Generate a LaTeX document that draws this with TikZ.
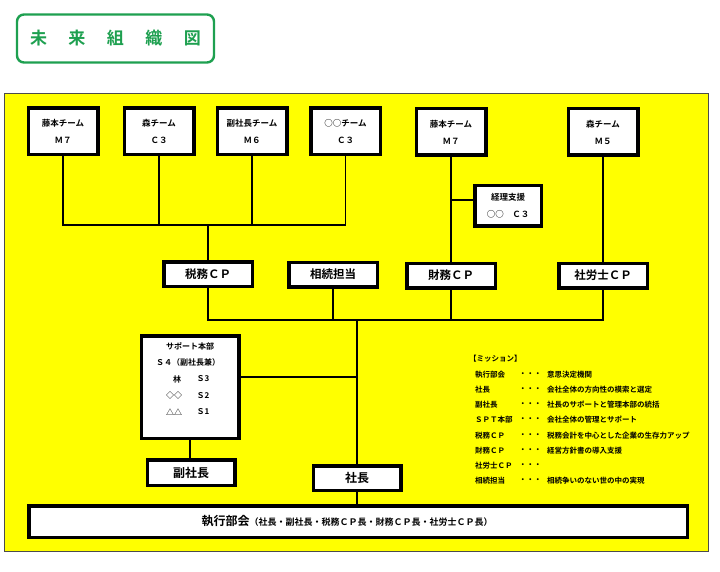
\documentclass[tikz,border=0pt]{standalone}
\usepackage{fontspec}
\setmainfont{Noto Sans CJK JP}[BoldFont={Noto Sans CJK JP Bold}]
\definecolor{ttlgreen}{RGB}{30,160,80}
\definecolor{bgyellow}{RGB}{255,255,0}
\newcommand{\tg}{\hspace{21.5pt}}
\begin{document}
\begin{tikzpicture}[x=1pt,y=-1pt,
  titlebox/.style={draw=ttlgreen, line width=2.4pt, rounded corners=7pt, fill=white, inner sep=0pt,
    minimum width=197pt, minimum height=48pt, text=ttlgreen, font=\bfseries\fontsize{17}{20}\selectfont},
  teambox/.style={draw, line width=3.5pt, fill=white, inner sep=0pt, align=center,
    minimum width=69.5pt, minimum height=46.5pt, font=\bfseries\fontsize{8.5}{17}\selectfont},
  cpbox/.style={draw, line width=3.5pt, fill=white, inner sep=0pt,
    minimum width=88.5pt, minimum height=24.5pt, font=\bfseries\fontsize{11.5}{14}\selectfont},
  headbox/.style={draw, line width=3.5pt, fill=white, inner sep=0pt,
    minimum width=87.5pt, minimum height=25.5pt, font=\bfseries\fontsize{12}{14}\selectfont},
  smalltxt/.style={inner sep=0pt, font=\bfseries\fontsize{8}{10}\selectfont},
  misstxt/.style={inner sep=0pt, anchor=west, font=\bfseries\fontsize{7.5}{9}\selectfont},
  conn/.style={line width=1.7pt}
]
\useasboundingbox (0,0) rectangle (720,572);
\fill[white] (0,0) rectangle (720,572);

% title
\node[titlebox] (title) at (115.5,38.5) {未\tg 来\tg 組\tg 織\tg 図};

% yellow field
\draw[fill=bgyellow, draw=gray!60!black, line width=0.6pt] (4,93) rectangle (708,551);

% top teams
\node[teambox] (t1) at (63,131.5)  {藤本チーム\\Ｍ７};
\node[teambox] (t2) at (159,131.5) {森チーム\\Ｃ３};
\node[teambox] (t3) at (252,131.5) {副社長チーム\\Ｍ６};
\node[teambox] (t4) at (345.5,131.5) {○○チーム\\Ｃ３};
\node[teambox] (t5) at (451,132)   {藤本チーム\\Ｍ７};
\node[teambox] (t6) at (603,132)   {森チーム\\Ｍ５};

% keiri
\node[teambox, minimum width=66.5pt, minimum height=40.5pt] (keiri) at (508,206) {経理支援\\○○\quad Ｃ３};

% CP boxes
\node[cpbox] (zeimu) at (208,274) {税務ＣＰ};
\node[cpbox] (souzoku) at (333,274.5) {相続担当};
\node[cpbox] (zaimu) at (451,275.5) {財務ＣＰ};
\node[cpbox] (sharou) at (603,275.5) {社労士ＣＰ};

% support box
\node[draw, line width=3.5pt, fill=white, minimum width=97.5pt, minimum height=102.5pt, inner sep=0pt] (support) at (190,387) {};
\node[smalltxt] (s1) at (190,346) {サポート本部};
\node[smalltxt] (s2) at (188,362.5) {Ｓ４（副社長兼）};
\node[smalltxt] (s3a) at (177,379) {林};
\node[smalltxt] (s3b) at (203,379) {Ｓ3};
\node[smalltxt] (s4a) at (174,395.5) {◇◇};
\node[smalltxt] (s4b) at (203,395.5) {Ｓ2};
\node[smalltxt] (s5a) at (174,412) {△△};
\node[smalltxt] (s5b) at (203,412) {Ｓ1};

% heads
\node[headbox] (fuku) at (191,472.5) {副社長};
\node[headbox, minimum height=24.5pt] (shachou) at (357,478) {社長};

% executive meeting
\node[draw, line width=3.5pt, fill=white, minimum width=658.5pt, minimum height=31.5pt, inner sep=0pt] (shikkou) at (358,521.5) {};
\node[inner sep=0pt] (shikkoutxt) at (347,521.5) {\bfseries\fontsize{12}{14}\selectfont 執行部会\fontsize{9}{14}\selectfont （社長・副社長・税務ＣＰ長・財務ＣＰ長・社労士ＣＰ長）};

% mission
\node[misstxt] (m0) at (469,359) {【ミッション】};
\foreach \lab/\desc [count=\i] in {執行部会/意思決定機関, 社長/会社全体の方向性の模索と選定, 副社長/社長のサポートと管理本部の統括, ＳＰＴ本部/会社全体の管理とサポート, 税務ＣＰ/税務会計を中心とした企業の生存力アップ, 財務ＣＰ/経営方針書の導入支援, 社労士ＣＰ/{}, 相続担当/相続争いのない世の中の実現}{
  \node[misstxt] (ml\i) at (475,{359+15.25*\i}) {\lab};
  \node[misstxt] (md\i) at (519,{359+15.25*\i}) {・・・};
  \node[misstxt] (mx\i) at (547,{359+15.25*\i}) {\desc};
}

% connectors: left team group
\coordinate (jL) at (208,225);
\draw[conn] (t1.south) |- (jL) -| (t4.south);
\draw[conn] (t2.south) -- (t2.south |- jL);
\draw[conn] (t3.south) -- (t3.south |- jL);
\draw[conn] (jL) -- (zeimu.north);
% right teams
\draw[conn] (t5.south) -- (zaimu.north);
\coordinate (kW) at ([yshift=6pt]keiri.west);
\draw[conn] (kW -| t5.south) -- (kW);
\draw[conn] (t6.south) -- (sharou.north);
% CP row
\coordinate (jM) at (357,320);
\draw[conn] (zeimu.south) |- (jM) -| (sharou.south);
\draw[conn] (souzoku.south) -- (souzoku.south |- jM);
\draw[conn] (zaimu.south) -- (zaimu.south |- jM);
\draw[conn] (jM) -- (shachou.north);
% support
\coordinate (sE) at ([yshift=10pt]support.east);
\draw[conn] (sE) -- (sE -| jM);
\draw[conn] (support.south) -- (support.south |- fuku.north);
\draw[conn] (shachou.south) -- (shachou.south |- shikkou.north);
\end{tikzpicture}
\end{document}
